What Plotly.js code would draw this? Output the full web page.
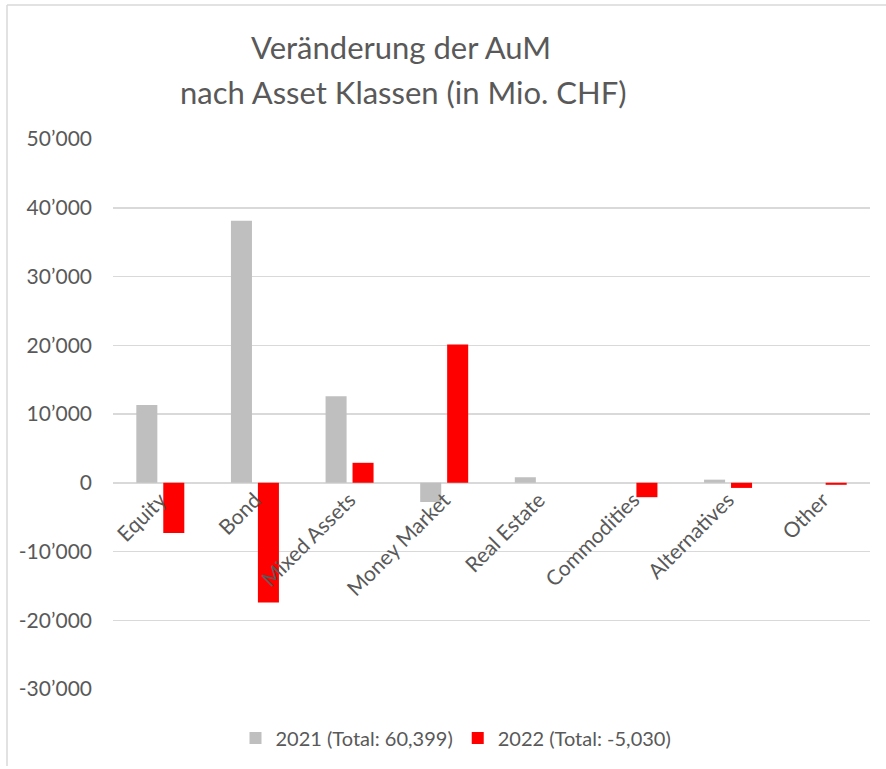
<!DOCTYPE html>
<html>
<head>
<meta charset="utf-8">
<script src="https://cdn.plot.ly/plotly-3.0.1.min.js"></script>
<style>html,body{margin:0;padding:0;background:#fff;}#chart{width:886px;height:769px;}</style>
</head>
<body>
<div id="chart"></div>
<script>
const categories = ["Equity", "Bond", "Mixed Assets", "Money Market", "Real Estate", "Commodities", "Alternatives", "Other"];
const values2021 = [11300, 38100, 12600, -2800, 800, 0, 450, 0];
const values2022 = [-7300, -17400, 2900, 20100, 0, -2100, -750, -300];
const seriesNames = ["2021 (Total: 60,399)", "2022 (Total: -5,030)"];
const titleLines = ["Veränderung der AuM", "nach Asset Klassen (in Mio. CHF)"];
const yTicks = [-30000, -20000, -10000, 0, 10000, 20000, 30000, 40000, 50000];
const yTickText = ["-30\u2019000", "-20\u2019000", "-10\u2019000", "0", "10\u2019000", "20\u2019000", "30\u2019000", "40\u2019000", "50\u2019000"];

const FONT = "Lato, 'Open Sans', sans-serif";
const GREY = "#595959";
const traces = [
  {type: "bar", x: categories, y: values2021, name: seriesNames[0],
   marker: {color: "#bfbfbf"}},
  {type: "bar", x: categories, y: values2022, name: seriesNames[1],
   marker: {color: "#ff0000"}}
];

const W = 886, H = 769, L = 113, R = 16, T = 139, B = 80;
const pw = W - L - R, ph = H - T - B;
function px(x) { return (x - L) / pw; }
function py(y) { return (H - B - y) / ph; }

const layout = {
  width: W, height: H,
  margin: {l: L, r: R, t: T, b: B},
  paper_bgcolor: "#ffffff", plot_bgcolor: "#ffffff",
  font: {family: FONT, color: GREY, size: 20},
  barmode: "group",
  bargap: 0.43,
  bargroupgap: 0.22,
  showlegend: true,
  legend: {orientation: "h", x: px(456), xanchor: "center", y: py(738), yanchor: "middle",
           font: {family: FONT, size: 20, color: GREY}, itemwidth: 30},
  xaxis: {type: "category", anchor: "free", position: 0.375,
          showgrid: false, zeroline: false, showline: false,
          ticks: "", tickangle: -45,
          tickfont: {family: FONT, size: 21, color: GREY}},
  yaxis: {range: [-30000, 50000], tickvals: yTicks, ticktext: yTickText,
          showgrid: true, gridcolor: "#d9d9d9", gridwidth: 1.5,
          zeroline: true, zerolinecolor: "#d9d9d9", zerolinewidth: 1.5,
          showline: false, ticks: "", ticklabelstandoff: 20,
          tickfont: {family: FONT, size: 21, color: GREY}},
  annotations: [
    {text: titleLines[0], xref: "paper", yref: "paper", x: px(401), y: py(47),
     xanchor: "center", yanchor: "middle", showarrow: false,
     font: {family: FONT, size: 31, color: GREY}},
    {text: titleLines[1], xref: "paper", yref: "paper", x: px(403), y: py(92),
     xanchor: "center", yanchor: "middle", showarrow: false,
     font: {family: FONT, size: 31, color: GREY}}
  ],
  shapes: [
    {type: "line", xref: "paper", yref: "paper", x0: px(7), x1: px(7), y0: py(5), y1: py(766),
     line: {color: "#d9d9d9", width: 1.5}},
    {type: "line", xref: "paper", yref: "paper", x0: px(7), x1: px(886), y0: py(5), y1: py(5),
     line: {color: "#d9d9d9", width: 1.5}}
  ]
};

Plotly.newPlot("chart", traces, layout, {displayModeBar: false, staticPlot: true});
</script>
</body>
</html>
